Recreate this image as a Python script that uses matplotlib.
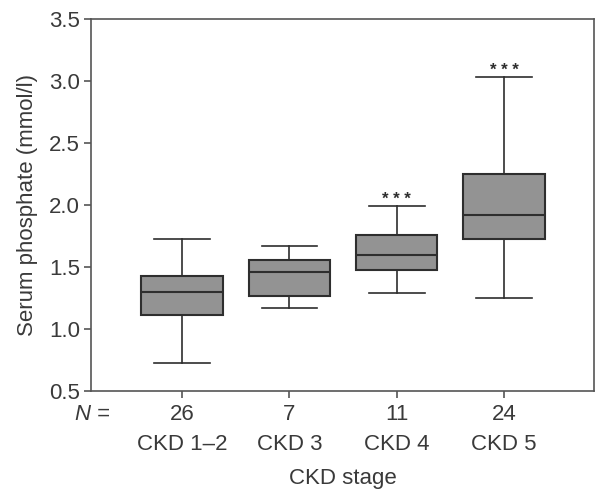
import matplotlib
matplotlib.use('Agg')
import matplotlib.pyplot as plt

plt.rcParams['font.family'] = ['Liberation Sans', 'DejaVu Sans']

# data
stages = ['CKD 1–2', 'CKD 3', 'CKD 4', 'CKD 5']
n_counts = [26, 7, 11, 24]
whis_low = [0.73, 1.17, 1.29, 1.25]
q1 = [1.11, 1.27, 1.48, 1.73]
medians = [1.30, 1.46, 1.60, 1.92]
q3 = [1.43, 1.56, 1.76, 2.25]
whis_high = [1.73, 1.67, 1.99, 3.03]
signif = ['', '', '* * *', '* * *']

text_col = '#3a3a3a'
line_col = '#2e2e2e'

stats = []
for i in range(len(stages)):
    stats.append({'whislo': whis_low[i], 'q1': q1[i], 'med': medians[i],
                  'q3': q3[i], 'whishi': whis_high[i], 'fliers': []})

fig = plt.figure(figsize=(6, 4.97), dpi=100)
ax = fig.add_axes([0.152, 0.213, 0.838, 0.749])

pos = [1, 2, 3, 4]
ax.bxp(stats, positions=pos, widths=0.76, patch_artist=True, showfliers=False,
       boxprops=dict(facecolor='#939393', edgecolor=line_col, linewidth=1.5),
       medianprops=dict(color=line_col, linewidth=1.5),
       whiskerprops=dict(color=line_col, linewidth=1.2),
       capprops=dict(color=line_col, linewidth=1.2),
       capwidths=0.52)

# significance stars just above the upper whisker
for i in range(len(stages)):
    if signif[i]:
        ax.text(pos[i], whis_high[i] + 0.02, signif[i], ha='center', va='baseline',
                fontsize=12, color=line_col, fontweight='bold')

ax.set_xlim(0.152, 4.84)
ax.set_ylim(0.5, 3.5)
ax.set_yticks([0.5, 1.0, 1.5, 2.0, 2.5, 3.0, 3.5])
ax.set_yticklabels(['0.5', '1.0', '1.5', '2.0', '2.5', '3.0', '3.5'])
ax.set_xticks(pos)
ax.set_xticklabels(['%d\n%s' % (n, s) for n, s in zip(n_counts, stages)],
                   linespacing=1.6)

for sp in ax.spines.values():
    sp.set_color('#555555')
    sp.set_linewidth(1.2)
ax.tick_params(axis='both', colors='#555555', labelcolor=text_col,
               labelsize=16, length=5, width=1.2)
ax.tick_params(axis='x', pad=4)
ax.tick_params(axis='y', pad=3)

ax.set_ylabel('Serum phosphate (mmol/l)', fontsize=16, color=text_col, labelpad=8)
ax.set_xlabel('CKD stage', fontsize=16, color=text_col, labelpad=9)

# "N =" row label
fig.text(0.150, 0.165, 'N', style='italic', fontsize=16, color=text_col,
         ha='right', va='center')
fig.text(0.152, 0.165, ' =', fontsize=16, color=text_col, ha='left', va='center')

fig.savefig('out.png', dpi=100)
